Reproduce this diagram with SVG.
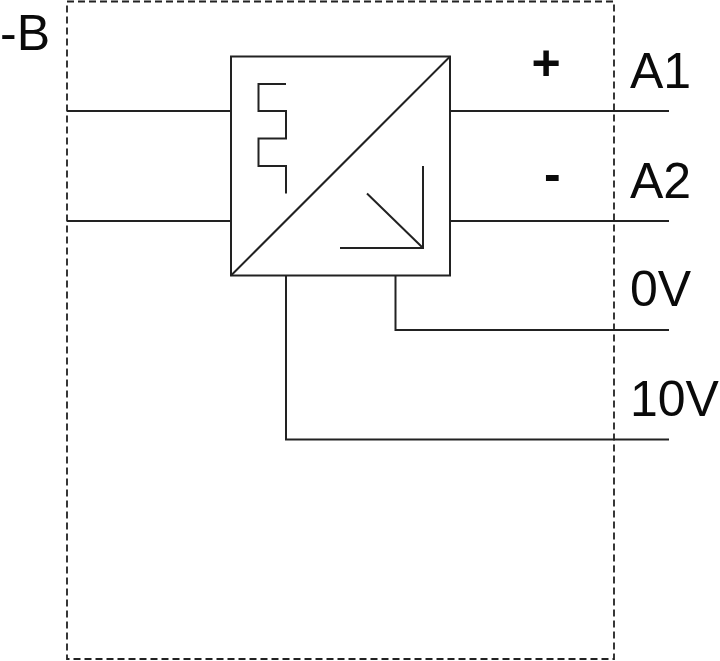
<svg xmlns="http://www.w3.org/2000/svg" width="720" height="661" viewBox="0 0 720 661">
<style>
.l{fill:none;stroke:#222;stroke-width:2}
.d{fill:none;stroke:#222;stroke-width:1.800;stroke-dasharray:7 4}
text{font-family:"Liberation Sans",Arial,sans-serif;font-size:50px;fill:#0a0a0a}
.b{font-weight:bold}
</style>
<rect width="720" height="661" fill="#fff"/>
<g id="connectors">
<path class="l" d="M67 111H231M67 221H231M450 111H669M450 221H669M395.500 275.500V330H669M286 275.500V439.500H669"/>
</g>
<g id="boundary">
<rect class="d" x="67" y="1.500" width="547" height="657.500"/>
<text x="0" y="50">-B</text>
</g>
<g id="converter">
<rect class="l" x="231" y="56.500" width="219" height="219"/>
<path class="l" d="M231 275.500L450 56.500"/>
<path class="l" d="M286 84H258.500V111H286V138.500H258.500V166H286V193.500"/>
<path class="l" d="M423 166V248H340M367 193.500L423 248"/>
</g>
<g id="terminals">
<text class="b" x="531.500" y="80">+</text>
<text class="b" x="544" y="191">-</text>
<text x="630" y="88">A1</text>
<text x="630" y="198">A2</text>
<text x="630" y="306">0V</text>
<text x="630" y="416">10V</text>
</g>
</svg>
